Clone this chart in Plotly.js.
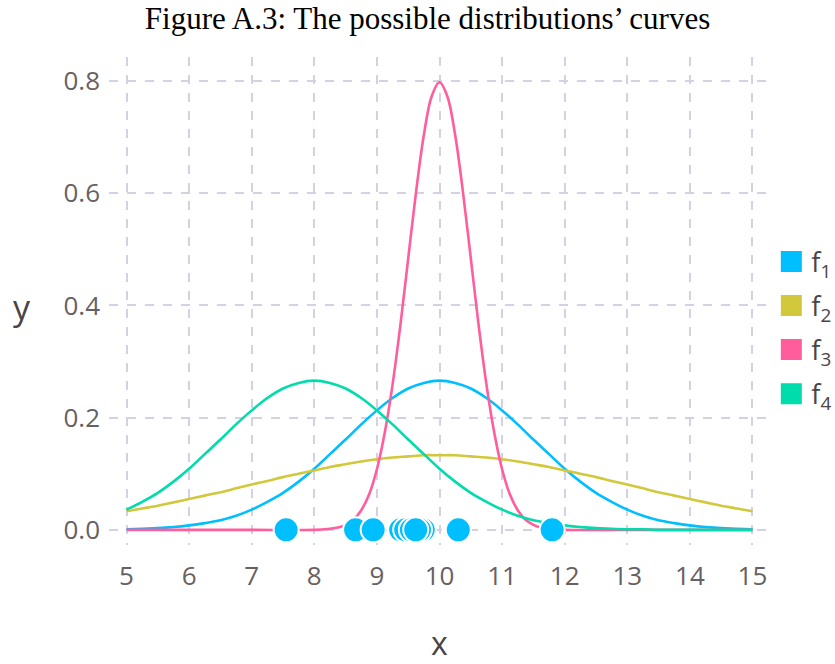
<!DOCTYPE html>
<html>
<head>
<meta charset="utf-8">
<script src="https://cdn.plot.ly/plotly-3.0.1.min.js"></script>
<style>
  html, body { margin: 0; padding: 0; background: #ffffff; }
  #chart { width: 835px; height: 664px; }
</style>
</head>
<body>
<div id="chart"></div>
<script>
// Sample positions along x for the three wider curves
const xs = [5, 5.25, 5.5, 5.75, 6, 6.25, 6.5, 6.75, 7, 7.25, 7.5, 7.75, 8, 8.25, 8.5, 8.75,
            9, 9.25, 9.5, 9.75, 10, 10.25, 10.5, 10.75, 11, 11.25, 11.5, 11.75, 12, 12.25,
            12.5, 12.75, 13, 13.25, 13.5, 13.75, 14, 14.25, 14.5, 14.75, 15];

// f1: centred on 10, medium spread
const f1 = [0.001, 0.002, 0.003, 0.005, 0.008, 0.012, 0.017, 0.025, 0.036, 0.050, 0.066,
            0.086, 0.109, 0.135, 0.161, 0.188, 0.213, 0.235, 0.252, 0.262, 0.266, 0.262,
            0.252, 0.235, 0.213, 0.188, 0.161, 0.135, 0.109, 0.086, 0.066, 0.050, 0.036,
            0.025, 0.017, 0.012, 0.008, 0.005, 0.003, 0.002, 0.001];

// f2: centred on 10, wide spread
const f2 = [0.033, 0.038, 0.043, 0.049, 0.055, 0.061, 0.067, 0.074, 0.081, 0.087, 0.094,
            0.100, 0.106, 0.112, 0.117, 0.122, 0.126, 0.129, 0.131, 0.133, 0.133, 0.133,
            0.131, 0.129, 0.126, 0.122, 0.117, 0.112, 0.106, 0.100, 0.094, 0.087, 0.081,
            0.074, 0.067, 0.061, 0.055, 0.049, 0.043, 0.038, 0.033];

// f3: centred on 10, narrow spread (denser sampling around the peak)
const xs3 = [5, 6, 7, 8, 8.25, 8.375, 8.5, 8.625, 8.75, 8.875, 9, 9.125, 9.25, 9.375, 9.5,
             9.625, 9.75, 9.875, 10, 10.125, 10.25, 10.375, 10.5, 10.625, 10.75, 10.875,
             11, 11.125, 11.25, 11.375, 11.5, 11.625, 11.75, 12, 13, 14, 15];
const f3 = [0, 0, 0, 0, 0.002, 0.004, 0.009, 0.018, 0.035, 0.063, 0.108, 0.173, 0.259,
            0.365, 0.484, 0.602, 0.704, 0.773, 0.798, 0.773, 0.704, 0.602, 0.484, 0.365,
            0.259, 0.173, 0.108, 0.063, 0.035, 0.018, 0.009, 0.004, 0.002, 0, 0, 0, 0];

// f4: centred on 8, medium spread
const f4 = [0.036, 0.050, 0.066, 0.086, 0.109, 0.135, 0.161, 0.188, 0.213, 0.235, 0.252,
            0.262, 0.266, 0.262, 0.252, 0.235, 0.213, 0.188, 0.161, 0.135, 0.109, 0.086,
            0.066, 0.050, 0.036, 0.025, 0.017, 0.012, 0.008, 0.005, 0.003, 0.002, 0.001,
            0.001, 0, 0, 0, 0, 0, 0, 0];

// Observed sample points, plotted on the x axis
const sampleX = [7.55, 8.66, 8.94, 9.38, 9.46, 9.74, 9.68, 9.55, 9.62, 10.30, 11.80];
const sampleY = [0, 0, 0, 0, 0, 0, 0, 0, 0, 0, 0];

const seriesNames = ['f<sub>1</sub>', 'f<sub>2</sub>', 'f<sub>3</sub>', 'f<sub>4</sub>'];
const seriesX = [xs, xs, xs3, xs];
const seriesValues = [f1, f2, f3, f4];
const seriesColors = ['#00bfff', '#d2c83c', '#ff5d9c', '#00dcab'];

const traces = [];

// density curves
seriesValues.forEach((ys, i) => {
  traces.push({
    type: 'scatter', mode: 'lines', x: seriesX[i], y: ys,
    line: { color: seriesColors[i], width: 2.6, shape: 'spline', smoothing: 1 },
    showlegend: false, hoverinfo: 'x+y'
  });
});

// sample points
traces.push({
  type: 'scatter', mode: 'markers', x: sampleX, y: sampleY,
  marker: { color: '#00bfff', size: 25, line: { color: '#ffffff', width: 2 } },
  showlegend: false
});

// legend entries shown as filled squares
seriesNames.forEach((name, i) => {
  traces.push({
    type: 'scatter', mode: 'markers', x: [null], y: [null], name: name,
    legendgroup: 'g' + i,
    marker: { symbol: 'square', color: seriesColors[i], size: 16,
              line: { color: seriesColors[i], width: 5 } }
  });
});

const gridStyle = { gridcolor: '#d4d1e4', gridwidth: 2, griddash: 'dash' };
const tickColor = '#676062';

const layout = {
  width: 835, height: 664,
  paper_bgcolor: '#ffffff', plot_bgcolor: '#ffffff',
  margin: { l: 109, r: 65, t: 57, b: 119, autoexpand: false },
  title: {
    text: 'Figure A.3: The possible distributions’ curves',
    font: { family: 'Liberation Serif, serif', size: 31, color: '#000000' },
    xref: 'container', yref: 'container', x: 0.512, xanchor: 'center',
    y: 0.973, yanchor: 'middle'
  },
  font: { family: 'Open Sans, sans-serif', color: tickColor },
  xaxis: Object.assign({
    range: [4.72, 15.28], tick0: 5, dtick: 1, zeroline: false, showline: false,
    tickfont: { size: 26, color: tickColor }, ticklabelstandoff: 13
  }, gridStyle),
  yaxis: Object.assign({
    range: [-0.027, 0.843], tick0: 0, dtick: 0.2, tickformat: '.1f',
    zeroline: false, showline: false,
    tickfont: { size: 26, color: tickColor }, ticklabelstandoff: 8
  }, gridStyle),
  annotations: [
    { text: 'x', xref: 'paper', yref: 'paper', x: 0.5, y: -0.199,
      xanchor: 'center', yanchor: 'middle', showarrow: false,
      font: { size: 32, color: '#4a4446' } },
    { text: 'y', xref: 'paper', yref: 'paper', x: -0.132, y: 0.488,
      xanchor: 'center', yanchor: 'middle', showarrow: false,
      font: { size: 34, color: '#4a4446' } }
  ],
  legend: {
    x: 1.002, xanchor: 'left', y: 0.445, yanchor: 'middle',
    font: { size: 27, color: '#4a4446' },
    traceorder: 'grouped', tracegroupgap: 6,
    bgcolor: 'rgba(0,0,0,0)'
  }
};

Plotly.newPlot('chart', traces, layout, { displayModeBar: false, staticPlot: true });
</script>
</body>
</html>
